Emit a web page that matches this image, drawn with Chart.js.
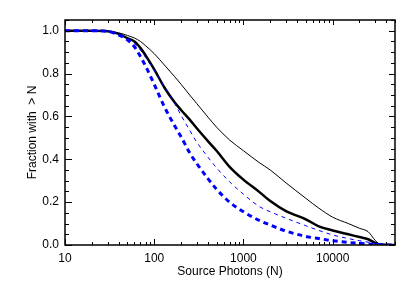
<!DOCTYPE html>
<html>
<head>
<meta charset="utf-8">
<script src="https://cdn.jsdelivr.net/npm/chart.js@4.4.1/dist/chart.umd.min.js"></script>
<style>
  html, body { margin: 0; padding: 0; background: #fff; }
  #wrap { width: 415px; height: 297px; }
</style>
</head>
<body>
<div id="wrap"><canvas id="fracChart"></canvas></div>
<script>
// source photons (x, log axis)
const photons = [10, 20, 30, 40, 50, 60, 70, 80, 100, 130, 170, 200, 250, 300, 400, 500, 700,
    1000, 1500, 2000, 3000, 5000, 7000, 10000, 15000, 20000, 25000, 30000, 35000, 50000];

// fraction with > N, one array per curve
const thinBlack = [1, 1, 0.998, 0.99, 0.978, 0.966, 0.95, 0.93, 0.893, 0.84, 0.785, 0.75, 0.70, 0.66, 0.597, 0.55, 0.49,
    0.44, 0.385, 0.35, 0.29, 0.218, 0.172, 0.13, 0.1, 0.078, 0.062, 0.022, 0.001, 0];
const thickBlack = [1, 1, 0.998, 0.985, 0.965, 0.95, 0.92, 0.885, 0.82, 0.735, 0.665, 0.63, 0.585, 0.545, 0.485, 0.44, 0.365,
    0.305, 0.248, 0.205, 0.158, 0.12, 0.087, 0.068, 0.05, 0.037, 0.027, 0.01, 0.002, 0];
const thinBlue = [1, 1, 0.998, 0.985, 0.965, 0.94, 0.91, 0.875, 0.815, 0.74, 0.66, 0.605, 0.535, 0.48, 0.41, 0.36, 0.295,
    0.237, 0.18, 0.155, 0.125, 0.09, 0.068, 0.047, 0.03, 0.02, 0.013, 0.008, 0.004, 0];
const thickBlue = [1, 1, 0.997, 0.98, 0.958, 0.925, 0.88, 0.835, 0.75, 0.645, 0.555, 0.505, 0.43, 0.38, 0.31, 0.26, 0.2,
    0.155, 0.115, 0.093, 0.065, 0.04, 0.03, 0.02, 0.012, 0.008, 0.005, 0.003, 0.001, 0];

// tick labels
const xTicks = [10, 100, 1000, 10000];
const yTicks = [0, 0.2, 0.4, 0.6, 0.8, 1.0];

const toPoints = (vals) => photons.map((n, i) => ({ x: n, y: vals[i] }));

const fontFamily = '"Liberation Sans", Arial, Helvetica, sans-serif';

// IDL style box with inward ticks on all four sides
const boxTicks = {
    id: 'boxTicks',
    afterDatasetsDraw(chart) {
        const { ctx, chartArea: a, scales: { x, y } } = chart;
        ctx.save();
        ctx.strokeStyle = '#000';
        ctx.lineWidth = 1;
        ctx.beginPath();
        // x ticks, decades and minors
        for (let d = 10; d <= 10000; d *= 10) {
            for (let m = 1; m <= 9; m++) {
                const v = d * m;
                if (v > x.max) break;
                const px = Math.round(x.getPixelForValue(v)) + 0.5;
                const len = m === 1 ? 6 : 3;
                ctx.moveTo(px, a.bottom); ctx.lineTo(px, a.bottom - len);
                ctx.moveTo(px, a.top); ctx.lineTo(px, a.top + (m === 1 ? 5 : 3));
            }
        }
        // y ticks every 0.05
        for (let k = 0; k <= 21; k++) {
            const v = k * 0.05;
            const py = Math.round(y.getPixelForValue(v)) + 0.5;
            const major = k % 4 === 0;
            ctx.moveTo(a.left, py); ctx.lineTo(a.left + (major ? 7 : 4), py);
            ctx.moveTo(a.right, py); ctx.lineTo(a.right - (major ? 6 : 4), py);
        }
        ctx.stroke();
        ctx.lineWidth = 1.5;
        ctx.strokeRect(a.left, a.top, a.right - a.left, a.bottom - a.top);
        ctx.restore();
    }
};

const fracChart = new Chart(document.getElementById('fracChart'), {
    type: 'line',
    data: {
        datasets: [
            {
                label: 'thick blue',
                data: toPoints(thickBlue),
                borderColor: 'rgb(0, 0, 255)',
                borderWidth: 3,
                borderDash: [5, 4],
            },
            {
                label: 'thin blue',
                data: toPoints(thinBlue),
                borderColor: 'rgb(0, 0, 255)',
                borderWidth: 1,
                borderDash: [4, 4],
            },
            {
                label: 'thick black',
                data: toPoints(thickBlack),
                borderColor: '#000',
                borderWidth: 2.5,
            },
            {
                label: 'thin black',
                data: toPoints(thinBlack),
                borderColor: '#000',
                borderWidth: 1,
            },
        ]
    },
    options: {
        responsive: true,
        maintainAspectRatio: false,
        animation: false,
        layout: { padding: { left: 0, top: 20, right: 20, bottom: 0 } },
        elements: {
            point: { radius: 0 },
            line: { cubicInterpolationMode: 'monotone', fill: false }
        },
        plugins: {
            legend: { display: false },
            tooltip: { enabled: false }
        },
        scales: {
            x: {
                type: 'logarithmic',
                min: 10,
                max: 50000,
                grid: { display: false, drawTicks: false },
                border: { display: false },
                afterBuildTicks: (scale) => { scale.ticks = xTicks.map(v => ({ value: v })); },
                afterFit: (scale) => { scale.height = 52; },
                ticks: {
                    autoSkip: false,
                    maxRotation: 0,
                    padding: 6,
                    color: '#000',
                    font: { family: fontFamily, size: 12 },
                    callback: (v) => String(v)
                },
                title: {
                    display: true,
                    text: 'Source Photons (N)',
                    color: '#000',
                    font: { family: fontFamily, size: 12 },
                    padding: { top: 0, bottom: 18 }
                }
            },
            y: {
                min: 0,
                max: 1.05,
                grid: { display: false, drawTicks: false },
                border: { display: false },
                afterBuildTicks: (scale) => { scale.ticks = yTicks.map(v => ({ value: v })); },
                afterFit: (scale) => { scale.width = 65; },
                ticks: {
                    padding: 6,
                    color: '#000',
                    font: { family: fontFamily, size: 12 },
                    callback: (v) => v.toFixed(1)
                },
                title: {
                    display: true,
                    text: 'Fraction with  > N',
                    color: '#000',
                    font: { family: fontFamily, size: 12 },
                    padding: { top: 25, bottom: 0 }
                }
            }
        }
    },
    plugins: [boxTicks]
});
</script>
</body>
</html>
